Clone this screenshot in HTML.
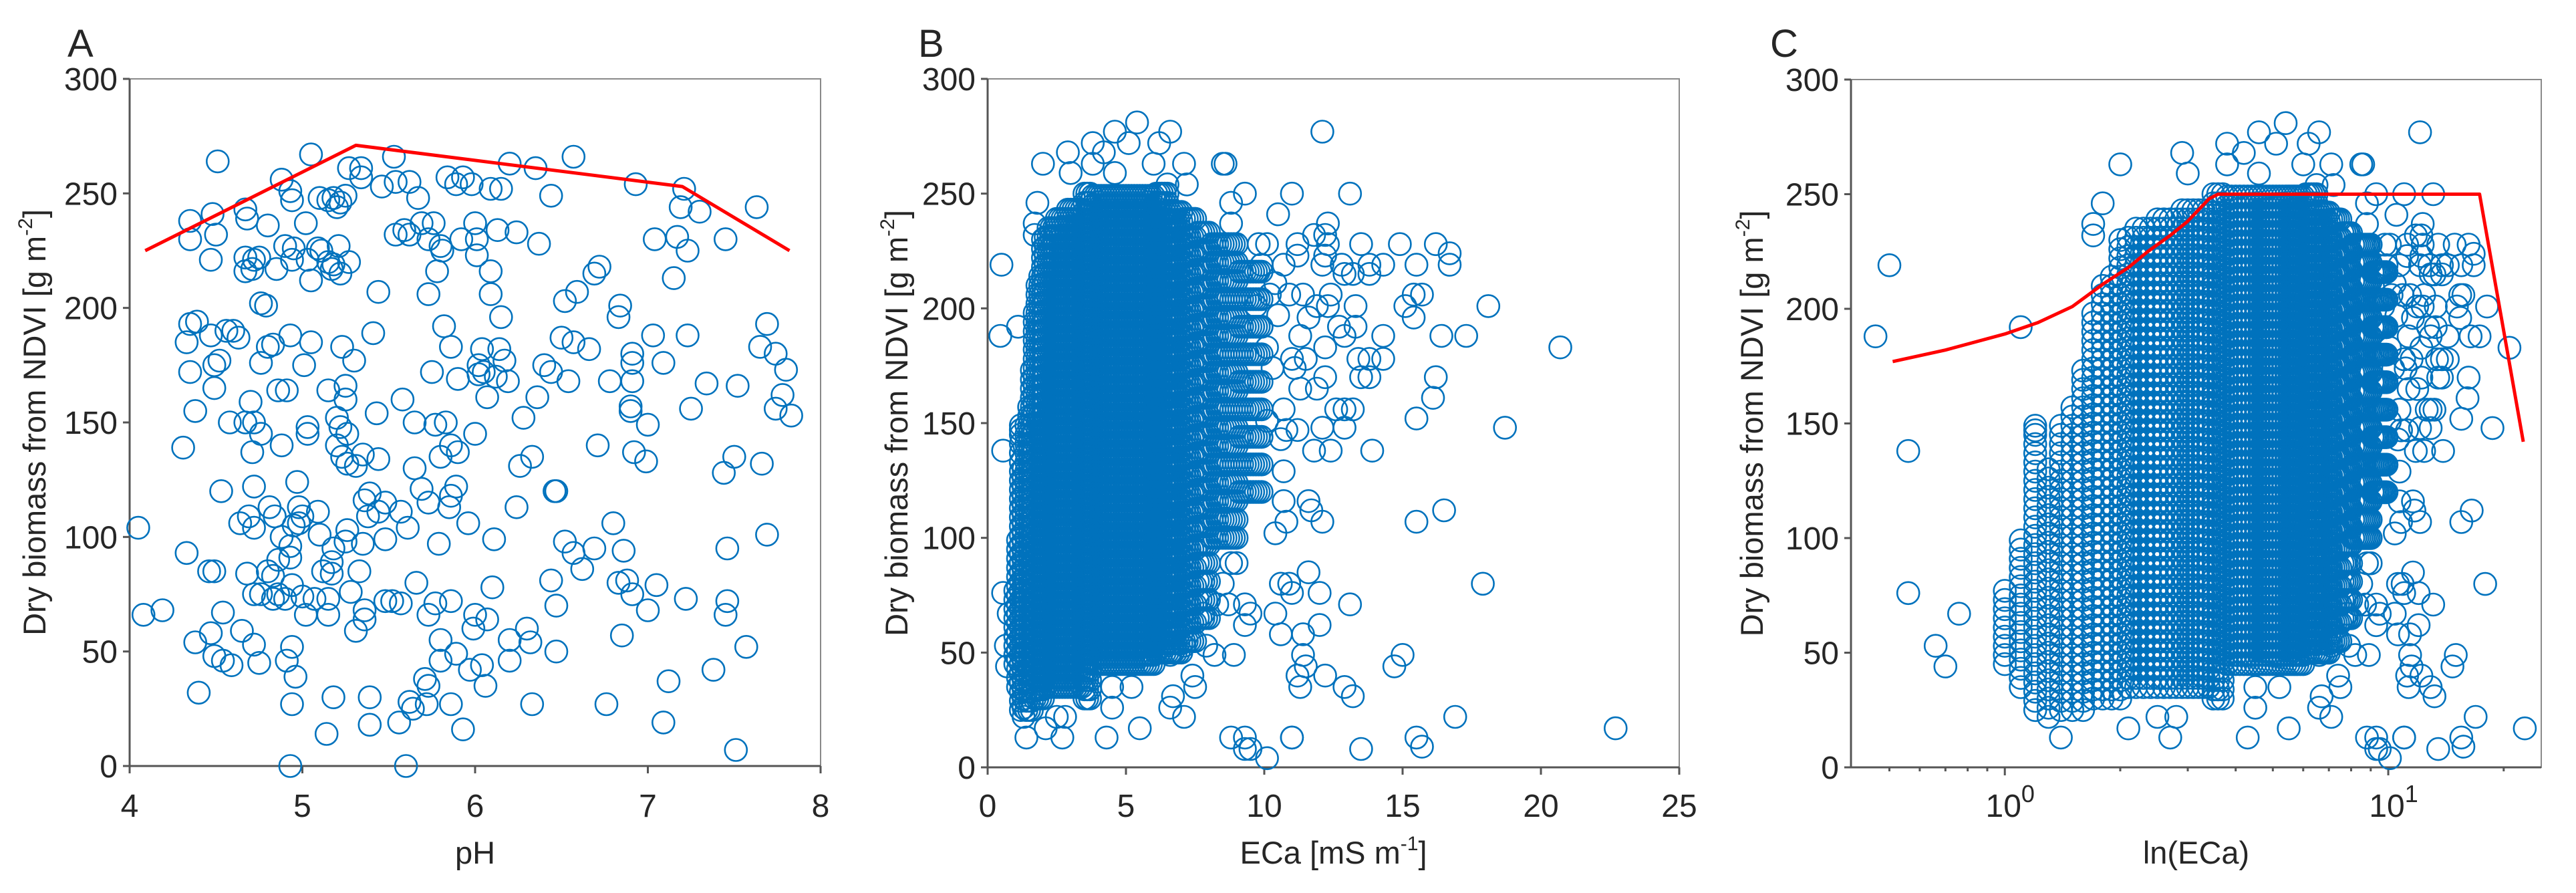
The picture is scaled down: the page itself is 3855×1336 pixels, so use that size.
<!DOCTYPE html>
<html><head><meta charset="utf-8"><style>
html,body{margin:0;padding:0;background:#fff;}
svg{display:block;font-family:"Liberation Sans",Arial,sans-serif;}
</style></head><body>
<svg id="fig" width="3855" height="1336" viewBox="0 0 3855 1336" xmlns="http://www.w3.org/2000/svg"></svg>
<script>
// ---------- Panel A data (pH vs biomass) ----------
const phVals=[4.51,5.05,5.53,6.57,6.2,6.35,5.27,5.34,5.34,4.88,4.93,4.94,4.35,4.35,4.48,4.5,4.47,4.67,4.68,4.8,4.67,4.72,4.75,4.67,4.71,4.85,4.9,4.95,4.94,5.02,5.03,5.05,5.09,5.11,5.15,5.17,5.18,5.22,5.27,5.21,5.1,5.15,5.18,5.22,5.25,5.2,5.46,5.54,5.62,5.67,5.44,5.54,5.59,5.62,5.69,5.76,5.73,5.8,5.81,5.78,5.73,5.84,5.89,5.93,5.98,6.09,6.15,5.92,6.0,6.01,6.01,6.13,6.24,6.09,6.09,6.15,6.37,6.44,6.93,7.21,7.19,7.3,7.04,7.17,7.23,7.15,7.63,7.45,6.72,6.69,6.59,6.52,6.84,6.83,4.76,4.79,4.35,4.39,4.33,4.47,4.56,4.6,4.63,4.93,5.05,4.8,4.83,4.76,5.01,5.23,5.3,5.41,5.82,5.86,6.04,6.14,6.17,6.02,6.05,6.12,6.19,6.02,6.07,5.75,5.9,6.4,6.44,6.5,6.57,6.66,6.54,6.78,7.03,7.09,6.91,6.91,6.91,6.9,6.9,7.0,7.23,7.34,7.52,7.69,7.65,7.74,7.8,7.78,7.74,7.83,7.25,7.66,7.5,7.44,6.92,6.99,6.71,6.36,6.28,6.26,6.33,6.24,6.46,6.47,6.0,5.9,5.86,5.8,5.83,5.77,5.65,5.58,5.43,5.65,5.69,5.73,5.86,5.89,5.85,5.96,6.11,5.79,5.57,5.61,5.48,5.48,5.44,5.39,5.36,5.38,5.35,5.44,5.35,5.23,5.26,5.31,5.2,5.26,5.22,5.2,5.25,5.25,5.15,5.03,5.03,4.86,4.91,4.88,4.76,4.71,4.67,4.72,4.58,4.7,4.38,4.31,4.35,4.49,4.52,4.49,4.53,4.72,4.97,4.81,4.84,4.64,4.72,4.69,4.98,5.0,5.09,4.95,4.98,4.88,4.93,4.86,4.93,5.1,5.18,5.26,5.25,5.17,5.12,5.17,5.33,4.8,4.83,4.68,4.76,4.83,4.9,4.72,4.86,4.94,5.0,5.07,5.02,5.15,5.15,5.28,5.36,5.36,5.31,5.48,5.52,5.57,5.66,5.73,5.77,5.86,6.0,6.07,5.99,6.1,6.44,6.47,6.52,6.57,6.62,6.69,6.8,6.86,6.83,6.88,6.91,7.05,7.0,6.85,7.22,7.46,7.45,7.46,7.69,7.57,7.38,7.51,7.12,7.09,6.76,6.47,6.3,6.32,6.2,6.2,6.33,6.06,6.04,5.97,5.89,5.8,5.8,5.71,5.73,5.72,5.86,5.93,5.62,5.64,5.56,5.6,5.39,5.39,5.18,5.14,4.94,4.96,4.91,4.94,4.93,4.72,4.75,4.65,4.47,4.38,4.49,4.54,4.59,4.4,4.08,4.19,4.05,4.33,4.46,4.49,4.54];
const phBio=[264,267,266,266,263,261,261,261,257,256,251,247,238,230,241,232,221,243,239,236,222,221,222,216,217,217,227,226,221,237,221,212,226,225,220,217,219,215,220,227,248,247,248,246,249,244,253,255,255,248,207,232,234,232,237,237,230,227,225,216,206,257,254,257,254,252,252,230,237,230,223,234,233,216,206,196,228,249,254,252,244,242,230,231,225,213,244,230,218,215,207,203,201,196,202,201,193,194,185,188,190,190,187,188,185,183,184,176,175,183,177,189,192,183,182,182,177,175,172,170,168,171,161,172,169,175,172,187,185,182,168,168,188,176,180,176,168,157,155,149,188,167,166,193,183,180,173,162,156,153,156,132,135,128,137,133,140,161,152,131,135,113,120,120,145,137,140,135,150,149,150,160,154,130,121,115,118,122,113,106,99,97,111,104,99,115,111,119,116,109,97,134,136,135,132,131,140,145,148,152,160,166,164,148,145,164,164,140,145,137,150,150,150,159,155,139,172,175,177,165,120,122,124,113,109,106,104,109,113,109,111,105,106,100,96,90,91,101,95,103,98,89,85,84,85,85,83,84,75,73,73,75,75,79,74,73,66,66,73,76,68,64,59,72,72,71,80,66,71,72,66,64,60,78,81,70,98,93,86,95,106,94,80,81,75,79,68,57,73,72,66,95,101,52,42,7,37,19,27,50,60,54,55,46,27,35,44,42,49,55,46,38,35,27,27,16,28,25,19,0,30,18,30,14,27,39,46,52,0,53,45,59,58,54,48,46,44,32,66,68,104,93,85,85,67];
const fitApH=[4.09,5.31,7.2,7.82];
const fitAVal=[225,271,253,225];

// ---------- Panels B & C data (ECa vs biomass) ----------
const coreEca=[1.0,1.1,1.2,1.3,1.4,1.5,1.6,1.7,1.8,1.9,2.0,2.1,2.2,2.3,2.4,2.5,2.6,2.7,2.8,2.9,3.0,3.1,3.2,3.3,3.4,3.5,3.6,3.7,3.8,3.9,4.0,4.1,4.2,4.3,4.4,4.5,4.6,4.7,4.8,4.9,5.0,5.1,5.2,5.3,5.4,5.5,5.6,5.7,5.8,5.9,6.0,6.1,6.2,6.3,6.4,6.5,6.6,6.7,6.8,6.9,7.0,7.1,7.2,7.3,7.4,7.5,7.6,7.7,7.8,7.9,8.0,8.1,8.2,8.3,8.4,8.5,8.6,8.7,8.8,8.9,9.0,9.1,9.2,9.3,9.4,9.5,9.6,9.7,9.8,9.9];
const coreLo=[45,35,25,22,25,25,25,30,30,30,30,35,35,35,35,35,35,35,35,35,35,35,35,35,35,30,30,30,45,45,45,45,45,45,45,45,45,45,45,45,45,45,45,45,45,45,45,45,45,45,45,50,50,50,50,50,50,50,50,50,50,55,55,55,55,55,65,65,65,65,65,100,100,100,100,100,100,100,100,100,100,120,120,120,120,120,120,120,120,120];
const coreHi=[80,100,150,130,150,160,175,200,210,215,230,232,235,235,238,240,240,242,242,243,243,244,244,245,245,250,250,250,250,250,250,250,250,250,250,250,250,250,250,250,250,250,250,250,250,250,250,250,250,250,250,250,250,250,250,250,245,245,245,245,245,240,240,240,240,240,235,235,235,235,235,230,230,230,230,230,230,230,230,230,230,225,225,225,225,225,225,225,225,225];
const coreStep=[4,4,4,4,4,4,4,4,4,4,4,4,4,4,4,4,4,4,4,4,4,4,4,4,4,4,4,4,4,4,4,4,4,4,4,4,4,4,4,4,4,4,4,4,4,4,4,4,4,4,4,4,4,4,4,4,4,4,4,4,4,8,8,8,8,8,8,8,8,8,8,8,8,8,8,8,8,8,8,8,8,12,12,12,12,12,12,12,12,12];
const outEca=[0.5,0.46,0.56,20.7,22.7,18.7,17.9,18.1,17.3,16.9,16.5,16.2,16.1,16.4,15.5,15.5,15.5,15.7,15.0,14.7,16.2,16.7,16.7,15.5,14.9,15.1,15.4,15.7,15.4,14.3,14.3,14.3,13.8,13.8,13.8,13.8,13.9,13.5,13.4,13.2,12.9,12.6,12.9,12.4,13.2,12.9,13.5,13.1,13.1,13.5,12.8,12.9,13.2,13.3,13.3,12.9,12.7,12.4,12.3,11.9,12.2,12.2,12.1,12.1,11.7,11.6,11.8,11.9,11.3,12.2,12.0,12.0,11.6,10.9,11.0,10.6,10.4,10.6,11.4,11.4,11.5,11.2,11.3,11.0,11.0,10.1,9.3,9.3,9.5,8.8,8.9,9.3,9.3,9.5,8.8,9.0,8.5,8.7,8.3,7.8,8.2,7.9,7.5,7.1,7.4,7.5,7.1,6.6,6.7,6.6,5.5,5.2,4.5,4.5,4.3,2.7,2.1,2.5,2.8,1.4,10.8,11.2,10.7,10.7,10.8,10.4,11.0,10.5,11.2,11.8,12.2,12.3,12.3,12.2,12.1,11.2,9.3,8.6,8.8,8.8,7.1,6.6,6.2,5.4,5.1,4.6,3.8,4.2,2.9,2.0,3.0,3.8,4.6,6.0,6.5,7.2,8.5,12.1,1.8,1.1,1.7,1.7,1.2,0.56,0.76,0.7,0.66,10.6,10.7,10.1,10.3,10.1,10.5,10.2,10.4,10.7,10.9,11.4,11.6,11.3,11.1,11.0,11.5,10.1,9.8,9.9,9.7,9.9];
const outBio=[219,188,138,183,17,148,80,201,188,22,112,170,161,188,152,107,13,9,49,44,228,224,219,219,228,201,206,206,196,219,188,178,219,215,178,170,138,170,178,156,156,156,148,138,31,35,8,71,250,228,219,215,215,201,192,188,192,206,201,201,183,170,148,107,112,116,138,165,165,40,62,76,85,80,76,80,67,58,58,49,44,40,35,13,13,4,13,8,8,13,49,62,71,67,89,89,80,71,71,67,49,53,71,53,40,35,22,26,31,49,17,35,26,35,13,13,17,22,22,13,147,147,129,116,107,102,250,241,223,232,232,237,228,223,219,228,250,263,246,237,263,277,272,281,272,277,272,268,268,263,259,263,259,263,254,254,263,277,246,192,232,237,147,76,67,44,53,143,156,151,174,183,197,206,211,219,206,206,196,188,174,178,178,228,228,219,201,192];
const fitCEca=[0.51,0.7,1.0,1.22,1.5,1.81,2.1,2.36,2.7,2.99,3.41,3.6,17.3,22.5];
const fitCVal=[177,182,189,194,201,211,218,225,232,238,248,250,250,142];

// ---------- rendering ----------
const NS="http://www.w3.org/2000/svg";
const svg=document.getElementById('fig');
const BLUE="#0072BD", AX="#555", TXT="#262626";
function mk(tag,attrs,parent){const e=document.createElementNS(NS,tag);for(const k in attrs)e.setAttribute(k,attrs[k]);(parent||svg).appendChild(e);return e;}

const P={
 A:{l:194,r:1228,t:118,b:1146,x0:4,x1:8,log:false},
 B:{l:1478,r:2513,t:118,b:1148,x0:0,x1:25,log:false},
 C:{l:2770,r:3803,t:119,b:1148,x0:0.397,x1:25.06,log:true}
};
function xs(p,v){ if(p.log){return p.l+(Math.log10(v)-Math.log10(p.x0))/(Math.log10(p.x1)-Math.log10(p.x0))*(p.r-p.l);} return p.l+(v-p.x0)/(p.x1-p.x0)*(p.r-p.l);}
function ys(p,v){return p.b-v/300*(p.b-p.t);}

function frame(p,g,key){
  const box=mk('rect',{x:p.l,y:p.t,width:p.r-p.l,height:p.b-p.t,fill:'none',stroke:'#8a8a8a','stroke-width':2},g);
  
  
  const ya=mk('line',{x1:p.l,y1:p.t,x2:p.l,y2:p.b,stroke:AX,'stroke-width':3},g);
  
  
  const xa=mk('line',{x1:p.l-10,y1:p.b,x2:p.r,y2:p.b,stroke:AX,'stroke-width':3},g);
  
  
  [0,50,100,150,200,250,300].forEach(v=>{
    const y=ys(p,v);
    mk('line',{x1:p.l-10,y1:y,x2:p.l,y2:y,stroke:AX,'stroke-width':3},g);
    const t=mk('text',{x:p.l-18,y:y+17,'font-size':48,'text-anchor':'end',fill:TXT},g);
    t.textContent=v;
    
    
  });
}
function circles(p,g,xsArr,ysArr,name){
  for(let i=0;i<xsArr.length;i++){
    const c=mk('circle',{cx:xs(p,xsArr[i]).toFixed(1),cy:ys(p,ysArr[i]).toFixed(1),r:16.5,fill:'none',stroke:BLUE,'stroke-width':2.6},g);
    
    
  }
}
function core(p,g){
  for(let i=0;i<coreEca.length;i++){
    for(let v=coreLo[i];v<=coreHi[i];v+=coreStep[i]){
      const c=mk('circle',{cx:xs(p,coreEca[i]).toFixed(1),cy:ys(p,v).toFixed(1),r:16.5,fill:'none',stroke:BLUE,'stroke-width':2.6},g);
      
      
    }
  }
}
function fit(p,g,xa,va,key){
  const d=xa.map((x,i)=>(i?'L':'M')+xs(p,x).toFixed(1)+' '+ys(p,va[i]).toFixed(1)).join(' ');
  const path=mk('path',{d:d,fill:'none',stroke:'#FF0000','stroke-width':5,'stroke-linejoin':'round'},g);
  
  
}
function label(txt,x,y,size,name,g,anchor,rot){
  const t=mk('text',{x:x,y:y,'font-size':size,'text-anchor':anchor||'middle',fill:TXT},g);
  if(rot)t.setAttribute('transform',`rotate(-90 ${x} ${y})`);
  t.innerHTML=txt;
  
  
  return t;
}
const YT='Dry biomass from NDVI [g m<tspan font-size="30" dy="-20">-2</tspan><tspan dy="20">]</tspan>';

// Panel A
const gA=mk('g',{});


frame(P.A,gA,'a');
[4,5,6,7,8].forEach(v=>{const x=xs(P.A,v);mk('line',{x1:x,y1:P.A.b,x2:x,y2:P.A.b+11,stroke:AX,'stroke-width':3},gA);
  label(String(v),x,1222,48,'x-tick-label',gA);});
circles(P.A,gA,phVals,phBio,'data-point');
fit(P.A,gA,fitApH,fitAVal,'a');
label('A',101,85,58,'panel-label-a',gA,'start');
label('pH',(P.A.l+P.A.r)/2,1292,47,'x-axis-title-a',gA);
label(YT,68,(P.A.t+P.A.b)/2,47,'y-axis-title-a',gA,'middle',true);

// Panel B
const gB=mk('g',{});


frame(P.B,gB,'b');
[0,5,10,15,20,25].forEach(v=>{const x=xs(P.B,v);mk('line',{x1:x,y1:P.B.b,x2:x,y2:P.B.b+11,stroke:AX,'stroke-width':3},gB);
  label(String(v),x,1222,48,'x-tick-label',gB);});
core(P.B,gB);
circles(P.B,gB,outEca,outBio,'data-point');
label('B',1374,85,58,'panel-label-b',gB,'start');
label('ECa [mS m<tspan font-size="30" dy="-20">-1</tspan><tspan dy="20">]</tspan>',(P.B.l+P.B.r)/2,1292,47,'x-axis-title-b',gB);
label(YT,1358,(P.B.t+P.B.b)/2,47,'y-axis-title-b',gB,'middle',true);

// Panel C
const gC=mk('g',{});


frame(P.C,gC,'c');
const minorC=[0.5,0.6,0.7,0.8,0.9,2,3,4,5,6,7,8,9,20];
minorC.forEach(v=>{const x=xs(P.C,v);mk('line',{x1:x,y1:P.C.b,x2:x,y2:P.C.b+6,stroke:AX,'stroke-width':3},gC);});
[[1,'0'],[10,'1']].forEach(([v,e])=>{const x=xs(P.C,v);mk('line',{x1:x,y1:P.C.b,x2:x,y2:P.C.b+12,stroke:AX,'stroke-width':3},gC);
  label('10<tspan font-size="36" dy="-22">'+e+'</tspan>',x+8,1222,48,'x-tick-label',gC);});
core(P.C,gC);
circles(P.C,gC,outEca,outBio,'data-point');
fit(P.C,gC,fitCEca,fitCVal,'c');
label('C',2649,85,58,'panel-label-c',gC,'start');
label('ln(ECa)',(P.C.l+P.C.r)/2,1292,47,'x-axis-title-c',gC);
label(YT,2638,(P.C.t+P.C.b)/2,47,'y-axis-title-c',gC,'middle',true);
</script>
</body></html>
